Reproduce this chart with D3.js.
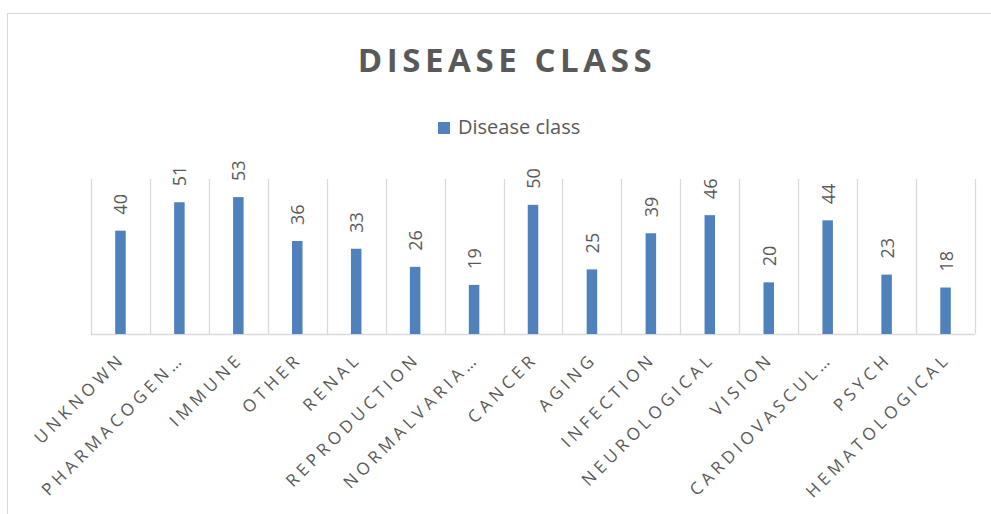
<!DOCTYPE html>
<html>
<head>
<meta charset="utf-8">
<script src="https://cdn.jsdelivr.net/npm/d3@7"></script>
<style>
  body { margin: 0; background: #ffffff; }
  svg { display: block; font-family: "Open Sans", sans-serif; }
</style>
</head>
<body>
<svg id="chart-svg"></svg>
<script>
// data
const categories = ["UNKNOWN", "PHARMACOGEN\u2026", "IMMUNE", "OTHER", "RENAL", "REPRODUCTION",
    "NORMALVARIA\u2026", "CANCER", "AGING", "INFECTION", "NEUROLOGICAL", "VISION",
    "CARDIOVASCUL\u2026", "PSYCH", "HEMATOLOGICAL"];
const counts = [40, 51, 53, 36, 33, 26, 19, 50, 25, 39, 46, 20, 44, 23, 18];
const seriesName = "Disease class";
const chartTitle = "DISEASE CLASS";

const width = 991;
const height = 514;
const textColor = "#595959";
const gridColor = "#d9d9d9";
const barColor = "#4f81bd";

let svg = d3.select("#chart-svg")
    .attr("width", width)
    .attr("height", height);

// chart frame (runs off the right and bottom edge like the original)
svg.append("rect")
    .attr("x", 7.5)
    .attr("y", 13.5)
    .attr("width", 998)
    .attr("height", 560)
    .attr("fill", "#ffffff")
    .attr("stroke", gridColor);

const x = d3.scaleBand()
    .domain(categories)
    .range([91, 975])
    .padding(0);

const y = d3.scaleLinear()
    .domain([0, 60])
    .range([334, 179]);

// vertical gridlines at category boundaries
let bounds = categories.map(c => x(c)).concat([x.range()[1]]);
svg.selectAll("line.grid")
    .data(bounds)
    .enter()
    .append("line")
    .attr("class", "grid")
    .attr("x1", d => Math.round(d) + 0.5)
    .attr("x2", d => Math.round(d) + 0.5)
    .attr("y1", y(60))
    .attr("y2", y(0))
    .attr("stroke", gridColor)
    .attr("stroke-width", 1.3);

// category axis line
svg.append("line")
    .attr("x1", x.range()[0])
    .attr("x2", x.range()[1])
    .attr("y1", y(0) + 0.5)
    .attr("y2", y(0) + 0.5)
    .attr("stroke", gridColor)
    .attr("stroke-width", 1.5);

const barW = 10.5;

// bars
svg.selectAll("rect.bar")
    .data(counts)
    .enter()
    .append("rect")
    .attr("class", "bar")
    .attr("x", (d, i) => x(categories[i]) + x.bandwidth() / 2 - barW / 2)
    .attr("y", d => y(d))
    .attr("width", barW)
    .attr("height", d => y(0) - y(d))
    .attr("fill", barColor);

// value labels, rotated
svg.selectAll("text.value")
    .data(counts)
    .enter()
    .append("text")
    .attr("class", "value")
    .attr("transform", (d, i) =>
        "translate(" + (x(categories[i]) + x.bandwidth() / 2 + 7) + "," + (y(d) - 16) + ") rotate(-90)")
    .attr("text-anchor", "start")
    .attr("font-size", "18px")
    .attr("fill", textColor)
    .text(d => d);

// category labels at -45 degrees
svg.selectAll("text.cat")
    .data(categories)
    .enter()
    .append("text")
    .attr("class", "cat")
    .attr("transform", d =>
        "translate(" + (x(d) + x.bandwidth() / 2 + 6) + "," + 360 + ") rotate(-45)")
    .attr("text-anchor", "end")
    .attr("font-size", "17px")
    .attr("letter-spacing", "4.3px")
    .attr("fill", textColor)
    .text(d => d);

// title
svg.append("text")
    .attr("x", 507)
    .attr("y", 72)
    .attr("text-anchor", "middle")
    .attr("font-size", "33px")
    .attr("font-weight", "bold")
    .attr("letter-spacing", "4.6px")
    .attr("fill", textColor)
    .text(chartTitle);

// legend
let legend = svg.append("g").attr("transform", "translate(438,0)");
legend.append("rect")
    .attr("x", 0)
    .attr("y", 122)
    .attr("width", 12)
    .attr("height", 12)
    .attr("fill", barColor);
legend.append("text")
    .attr("x", 20)
    .attr("y", 134)
    .attr("font-size", "20px")
    .attr("fill", textColor)
    .text(seriesName);
</script>
</body>
</html>
